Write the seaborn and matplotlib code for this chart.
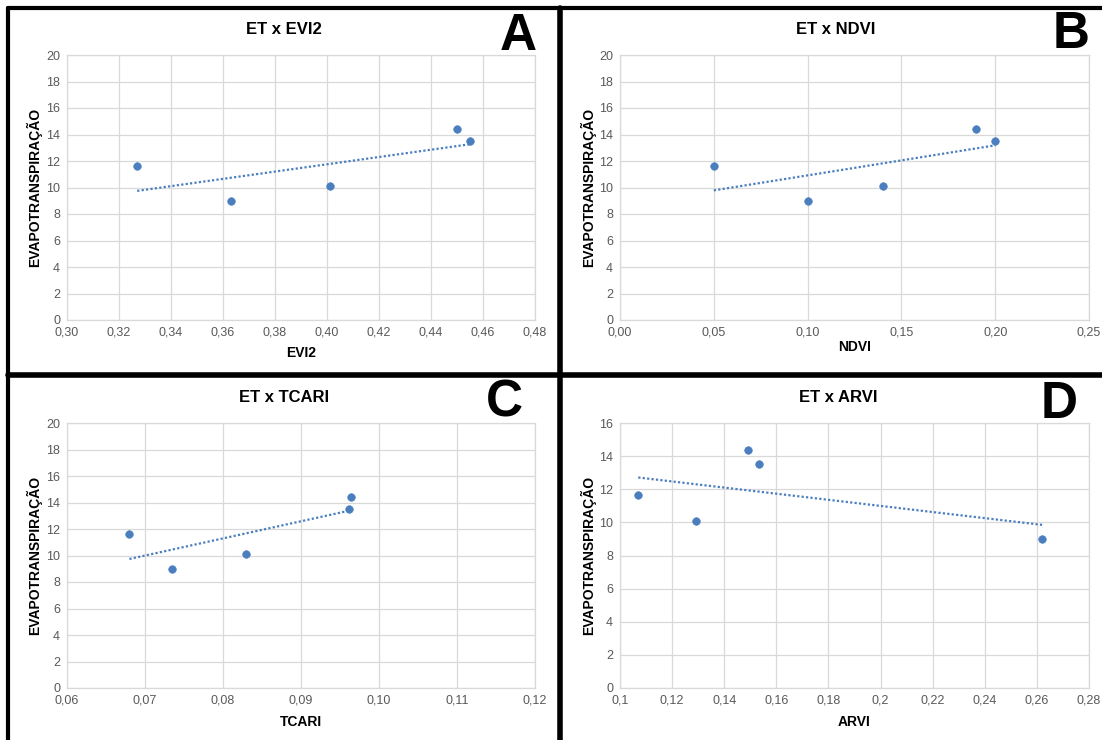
import numpy as np
import pandas as pd
import seaborn as sns
import matplotlib.pyplot as plt
from matplotlib.ticker import FuncFormatter, MultipleLocator
from matplotlib.lines import Line2D

# evapotranspiration (same five samples in every panel)
et = [11.65, 9.0, 10.1, 14.4, 13.5]
evi2 = [0.327, 0.363, 0.401, 0.450, 0.455]
ndvi = [0.05, 0.10, 0.14, 0.19, 0.20]
tcari = [0.068, 0.0735, 0.083, 0.0964, 0.0961]
arvi = [0.107, 0.262, 0.129, 0.149, 0.1535]

sns.set_style("white")
plt.rcParams['font.family'] = ['Liberation Sans', 'DejaVu Sans']

blue = "#4a7ebf"
grid = "#d9d9d9"

fig = plt.figure(figsize=(11.02, 7.40), dpi=100)
W, H = 1102, 740


def rect(l, r, t, b):
    return [l / W, 1 - b / H, (r - l) / W, (b - t) / H]


def comma(fmt):
    return FuncFormatter(lambda v, p: fmt(v).replace('.', ','))


panels = [
    dict(x=evi2, name='EVI2', letter='A', box=(67, 535, 55, 320), xlim=(0.30, 0.48), step=0.02,
         ylim=(0, 20), fmt=lambda v: f"{v:.2f}", title=(284, 29), lab=(518, 36), ylab=34, xlab=353),
    dict(x=ndvi, name='NDVI', letter='B', box=(620, 1089, 55, 320), xlim=(0.0, 0.25), step=0.05,
         ylim=(0, 20), fmt=lambda v: f"{v:.2f}", title=(836, 29), lab=(1071, 35), ylab=588, xlab=347),
    dict(x=tcari, name='TCARI', letter='C', box=(67, 535, 423, 688), xlim=(0.06, 0.12), step=0.01,
         ylim=(0, 20), fmt=lambda v: f"{v:.2f}", title=(284, 398), lab=(504, 403), ylab=34, xlab=722),
    dict(x=arvi, name='ARVI', letter='D', box=(620, 1089, 423, 688), xlim=(0.10, 0.28), step=0.02,
         ylim=(0, 16), fmt=lambda v: f"{round(v, 3):g}", title=(838, 398), lab=(1059, 405), ylab=588, xlab=722),
]

for p in panels:
    ax = fig.add_axes(rect(*p['box']))
    df = pd.DataFrame({'x': p['x'], 'et': et})
    sns.regplot(data=df, x='x', y='et', ax=ax, scatter=False, ci=None, truncate=True,
                color=blue, line_kws=dict(ls=(0, (1, 1)), lw=1.6))
    sns.scatterplot(data=df, x='x', y='et', ax=ax, color=blue, s=30, edgecolor=blue, zorder=3)
    ax.set_xlim(*p['xlim'])
    ax.set_ylim(*p['ylim'])
    ax.xaxis.set_major_locator(MultipleLocator(p['step']))
    ax.yaxis.set_major_locator(MultipleLocator(2))
    ax.xaxis.set_major_formatter(comma(p['fmt']))
    ax.yaxis.set_major_formatter(FuncFormatter(lambda v, q: f"{v:.0f}"))
    ax.grid(True, color=grid, lw=0.9)
    ax.set_axisbelow(True)
    for s in ax.spines.values():
        s.set_color(grid)
        s.set_linewidth(0.9)
    ax.tick_params(length=0, labelsize=9, labelcolor="#595959", pad=5)
    ax.set_xlabel('')
    ax.set_ylabel('')
    fig.text(p['title'][0] / W, 1 - p['title'][1] / H, f"ET x {p['name']}", ha='center', va='center',
             fontsize=12, fontweight='bold', color='black')
    fig.text(p['lab'][0] / W, 1 - p['lab'][1] / H, p['letter'], ha='center', va='center',
             fontsize=37, fontweight='bold', color='black')
    cx = (p['box'][0] + p['box'][1]) / 2
    fig.text(cx / W, 1 - p['xlab'] / H, p['name'], ha='center', va='center', fontsize=10,
             fontweight='bold', color='black')
    cy = (p['box'][2] + p['box'][3]) / 2
    fig.text(p['ylab'] / W, 1 - cy / H, 'EVAPOTRANSPIRAÇÃO', ha='center', va='center', rotation=90,
             fontsize=10, fontweight='bold', color='black')

# panel frames
for xs, ys, lw in [((8, 8), (8, 740), 3), ((8, 1102), (8, 8), 3),
                   ((560, 560), (8, 740), 4), ((8, 1102), (375, 375), 4)]:
    fig.add_artist(Line2D([x / W for x in xs], [1 - y / H for y in ys], color='black', lw=lw))

fig.savefig('out.png', dpi=100, facecolor='white')
